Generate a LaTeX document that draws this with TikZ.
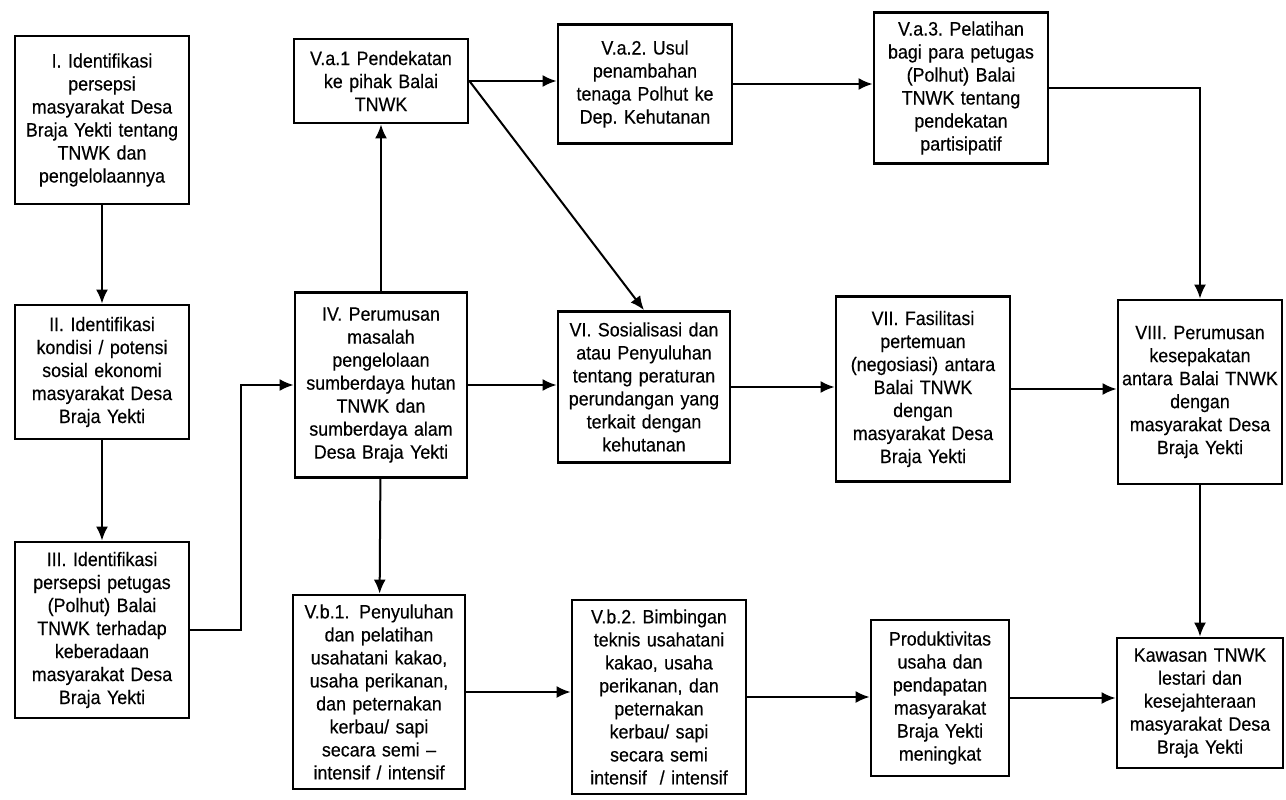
\documentclass[tikz,border=0pt]{standalone}
\usepackage{fontspec}
\setmainfont{Liberation Sans}[FakeStretch=0.92,FakeBold=0.35]
\usepackage{tikz}
\usetikzlibrary{arrows.meta}
\frenchspacing

\begin{document}
\begin{tikzpicture}[x=0.5pt,y=-0.5pt]
    \tikzstyle{stage}=[draw,line width=1.4pt,align=center,inner sep=1pt,font=\fontsize{9.7}{11.5}\selectfont]
    \tikzstyle{flow}=[->,line width=1pt,>={Latex[length=7pt,width=6pt]}]
    \useasboundingbox (0,0) rectangle (1286,799);

    % left column
    \node[stage,text width=85pt,minimum height=84pt](identpersepsi) at (102,120){I. Identifikasi\\ persepsi\\ masyarakat Desa\\ Braja Yekti tentang\\ TNWK dan\\ pengelolaannya};
    \node[stage,text width=85pt,minimum height=67pt](identkondisi) at (102,372){II. Identifikasi\\ kondisi / potensi\\ sosial ekonomi\\ masyarakat Desa\\ Braja Yekti};
    \node[stage,text width=85pt,minimum height=88pt](identpetugas) at (102,630){III. Identifikasi\\ persepsi petugas\\ (Polhut) Balai\\ TNWK terhadap\\ keberadaan\\ masyarakat Desa\\ Braja Yekti};

    % second column
    \node[stage,text width=85pt,minimum height=42pt](pendekatan) at (381,81){V.a.1 Pendekatan\\ ke pihak Balai\\ TNWK};
    \node[stage,text width=84pt,minimum height=92.5pt](perumusan) at (381,385){IV. Perumusan\\ masalah\\ pengelolaan\\ sumberdaya hutan\\ TNWK dan\\ sumberdaya alam\\ Desa Braja Yekti};
    \node[stage,text width=84pt,minimum height=97pt](penyuluhan) at (379,692){V.b.1.\enspace Penyuluhan\\ dan pelatihan\\ usahatani kakao,\\ usaha perikanan,\\ dan peternakan\\ kerbau/ sapi\\ secara semi --\\ intensif / intensif};

    % third column
    \node[stage,text width=85pt,minimum height=59.5pt](usul) at (645,84){V.a.2. Usul\\ penambahan\\ tenaga Polhut ke\\ Dep. Kehutanan};
    \node[stage,text width=84pt,minimum height=75.5pt](sosialisasi) at (644,387){VI. Sosialisasi dan\\ atau Penyuluhan\\ tentang peraturan\\ perundangan yang\\ terkait dengan\\ kehutanan};
    \node[stage,text width=85pt,minimum height=97pt](bimbingan) at (659,697){V.b.2. Bimbingan\\ teknis usahatani\\ kakao, usaha\\ perikanan, dan\\ peternakan\\ kerbau/ sapi\\ secara semi\\ intensif \ / intensif};

    % fourth column
    \node[stage,text width=85pt,minimum height=75.5pt](pelatihan) at (961,88){V.a.3. Pelatihan\\ bagi para petugas\\ (Polhut) Balai\\ TNWK tentang\\ pendekatan\\ partisipatif};
    \node[stage,text width=85pt,minimum height=92.5pt](fasilitasi) at (923,389){VII. Fasilitasi\\ pertemuan\\ (negosiasi) antara\\ Balai TNWK\\ dengan\\ masyarakat Desa\\ Braja Yekti};
    \node[stage,text width=67pt,minimum height=78pt](produktivitas) at (940,698){Produktivitas\\ usaha dan\\ pendapatan\\ masyarakat\\ Braja Yekti\\ meningkat};

    % right column
    \node[stage,text width=80pt,minimum height=92pt](kesepakatan) at (1200,392){VIII. Perumusan\\ kesepakatan\\ antara Balai TNWK\\ dengan\\ masyarakat Desa\\ Braja Yekti};
    \node[stage,text width=81pt,minimum height=65pt](kawasan) at (1200,703){Kawasan TNWK\\ lestari dan\\ kesejahteraan\\ masyarakat Desa\\ Braja Yekti};

    % connectors
    \draw[flow] (identpersepsi) -- (identkondisi);
    \draw[flow] (identkondisi) -- (identpetugas);
    \draw[flow] (identpetugas.east) -- ++(51,0) |- (perumusan.west);
    \draw[flow] (perumusan) -- (pendekatan);
    \draw[flow] (perumusan) -- (penyuluhan);
    \draw[flow] (pendekatan.east) -- (pendekatan.east -| usul.west);
    \draw[flow] (pendekatan.east) -- (sosialisasi.north);
    \draw[flow] (usul.east) -- (usul.east -| pelatihan.west);
    \draw[flow] (pelatihan.east) -| (kesepakatan.north);
    \draw[flow] (perumusan.east) -- (perumusan.east -| sosialisasi.west);
    \draw[flow] (sosialisasi.east) -- (sosialisasi.east -| fasilitasi.west);
    \draw[flow] (fasilitasi.east) -- (fasilitasi.east -| kesepakatan.west);
    \draw[flow] (kesepakatan) -- (kawasan);
    \draw[flow] (penyuluhan.east) -- (penyuluhan.east -| bimbingan.west);
    \draw[flow] (bimbingan.east) -- (bimbingan.east -| produktivitas.west);
    \draw[flow] (produktivitas.east) -- (produktivitas.east -| kawasan.west);
\end{tikzpicture}
\end{document}
